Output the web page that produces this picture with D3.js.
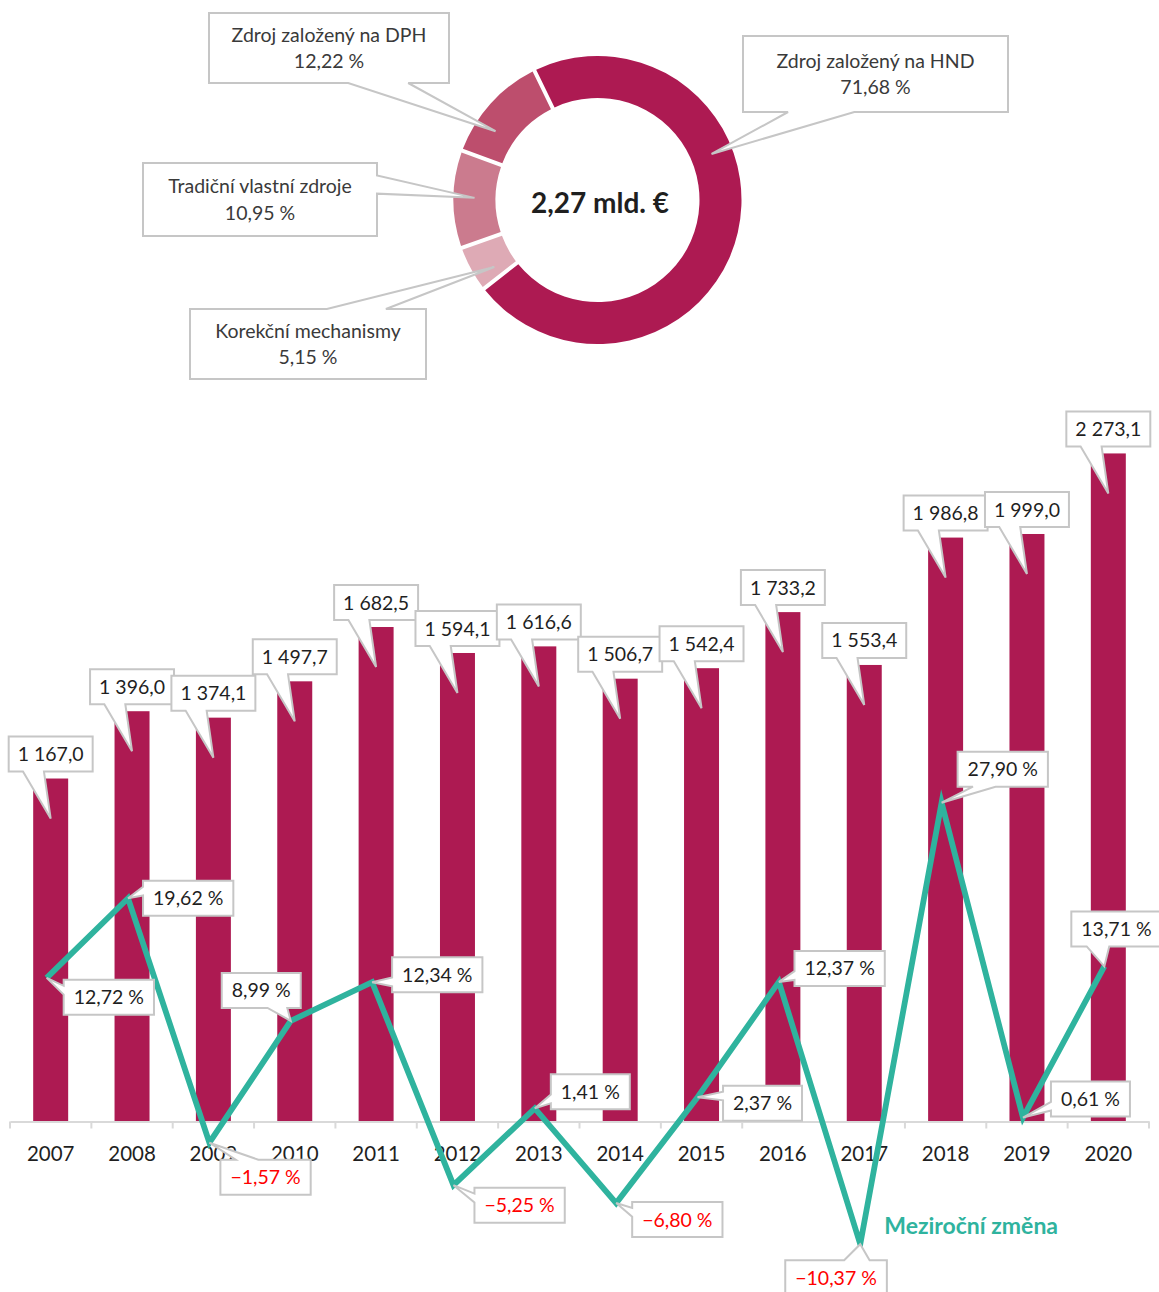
<!DOCTYPE html>
<html><head><meta charset="utf-8">
<script src="https://cdn.jsdelivr.net/npm/d3@7"></script>
<style>body{margin:0;background:#fff} svg{display:block}</style>
</head><body>
<svg id="chart" width="1159" height="1292"></svg>
<script>
// ---------------- data ----------------
const years = ["2007","2008","2009","2010","2011","2012","2013","2014","2015","2016","2017","2018","2019","2020"];
const budget = [1167.0, 1396.0, 1374.1, 1497.7, 1682.5, 1594.1, 1616.6, 1506.7, 1542.4, 1733.2, 1553.4, 1986.8, 1999.0, 2273.1];
const yoyChange = [12.72, 19.62, -1.57, 8.99, 12.34, -5.25, 1.41, -6.80, 2.37, 12.37, -10.37, 27.90, 0.61, 13.71];
const sourceNames = ["Zdroj založený na HND", "Korekční mechanismy", "Tradiční vlastní zdroje", "Zdroj založený na DPH"];
const sourceShares = [71.68, 5.15, 10.95, 12.22];
const totalLabel = "2,27 mld. €";
const lineSeriesName = "Meziroční změna";

// ---------------- layout / style ----------------
const FONT = "Lato, 'Open Sans', sans-serif";
const BAR_COLOR = "#AD1A52";
const LINE_COLOR = "#2FB39E";
const BOX_STROKE = "#C6C6C6";
const TEXT_DARK = "#1F1F1F";
const sourceColors = ["#AD1A52", "#DEAAB5", "#CB7B8E", "#BD4E6D"];
const donutGeo = {cx: 597.5, cy: 200, rOuter: 144, rInner: 102, startDeg: -26, anchorR: 123};
// callout boxes for donut: [x, y, w, h], anchor angle (deg, clockwise from top)
const donutBoxes = [[743, 36, 265, 76], [190, 309, 236, 70], [143, 163, 234, 73], [209, 13, 240, 70]];
const donutAnchorDeg = [68, 237, 271, 304];
// line label box offsets from the point (to box top-left)
const lineLabelOffsets = [[17,2],[15,-17.5],[11,17],[-69,-48],[20,-25],[21,2.5],[16,-34],[16,-1],[25.5,-11.6],[15.6,-31],[-75,16],[16,-51],[28,-36],[-33,-55]];

const locale = d3.formatLocale({decimal: ",", thousands: "\u00a0", grouping: [3], currency: ["", " €"], minus: "\u2212"});
const fmtBar = locale.format(",.1f");
const fmtPct = v => locale.format(".2f")(v) + "\u00a0%";

const svg = d3.select("#chart");

function calloutPath(x, y, w, h, tx, ty) {
  const cx = x + w / 2, cy = y + h / 2;
  const rx = (tx - cx) / (w / 2), ry = (ty - cy) / (h / 2);
  const seg = (a, len, t, c) => t > c ? [a + 0.58 * len, a + 0.83 * len] : [a + 0.17 * len, a + 0.42 * len];
  const p = d3.path();
  if (Math.abs(ry) >= Math.abs(rx)) {
    const [b0, b1] = seg(x, w, tx, cx);
    if (ry > 0) {
      p.moveTo(x, y); p.lineTo(x + w, y); p.lineTo(x + w, y + h); p.lineTo(b1, y + h);
      p.lineTo(tx, ty); p.lineTo(b0, y + h); p.lineTo(x, y + h); p.closePath();
    } else {
      p.moveTo(x, y); p.lineTo(b0, y); p.lineTo(tx, ty); p.lineTo(b1, y);
      p.lineTo(x + w, y); p.lineTo(x + w, y + h); p.lineTo(x, y + h); p.closePath();
    }
  } else {
    const [b0, b1] = seg(y, h, ty, cy);
    if (rx > 0) {
      p.moveTo(x, y); p.lineTo(x + w, y); p.lineTo(x + w, b0); p.lineTo(tx, ty);
      p.lineTo(x + w, b1); p.lineTo(x + w, y + h); p.lineTo(x, y + h); p.closePath();
    } else {
      p.moveTo(x, y); p.lineTo(x + w, y); p.lineTo(x + w, y + h); p.lineTo(x, y + h);
      p.lineTo(x, b1); p.lineTo(tx, ty); p.lineTo(x, b0); p.closePath();
    }
  }
  return p.toString();
}

// ---------------- donut ----------------
const gDonut = svg.append("g").attr("transform", `translate(${donutGeo.cx},${donutGeo.cy})`);
const start = donutGeo.startDeg * Math.PI / 180;
const pie = d3.pie().sort(null).value(d => d).startAngle(start).endAngle(start + 2 * Math.PI);
const arc = d3.arc().innerRadius(donutGeo.rInner).outerRadius(donutGeo.rOuter)
  .padAngle(4 / donutGeo.rOuter).padRadius(donutGeo.rOuter);
gDonut.selectAll("path.slice").data(pie(sourceShares)).join("path")
  .attr("class", "slice").attr("d", arc).attr("fill", (d, i) => sourceColors[i]);

gDonut.append("text").text(totalLabel)
  .attr("x", 2.5).attr("y", 3).attr("dy", "0.36em")
  .attr("text-anchor", "middle").attr("font-family", FONT).attr("font-weight", 700)
  .attr("font-size", 28).attr("fill", TEXT_DARK);

const gDL = svg.append("g");
sourceNames.forEach((name, i) => {
  const [bx, by, bw, bh] = donutBoxes[i];
  const a = donutAnchorDeg[i] * Math.PI / 180;
  const tx = donutGeo.cx + donutGeo.anchorR * Math.sin(a);
  const ty = donutGeo.cy - donutGeo.anchorR * Math.cos(a);
  gDL.append("path").attr("d", calloutPath(bx, by, bw, bh, tx, ty))
    .attr("fill", "#fff").attr("stroke", BOX_STROKE).attr("stroke-width", 2);
  const t = gDL.append("text").attr("text-anchor", "middle").attr("font-family", FONT)
    .attr("font-size", 19.5).attr("fill", "#3A3A3A");
  t.append("tspan").attr("x", bx + bw / 2).attr("y", by + bh / 2 - 13.3).attr("dy", "0.36em").text(name);
  t.append("tspan").attr("x", bx + bw / 2).attr("y", by + bh / 2 + 13.3).attr("dy", "0.36em").text(fmtPct(sourceShares[i]));
});

// ---------------- bars ----------------
const x = d3.scaleBand().domain(years).range([10, 1149]).paddingInner(0).paddingOuter(0);
const xBar = d3.scaleBand().domain(years).range([10, 1149]).paddingInner(0.57).paddingOuter(0.285);
const yBar = d3.scaleLinear().domain([0, 2500]).range([1121.5, 1121.5 - 2500 * 0.2939]);
const yLine = d3.scaleLinear().domain([-15, 30]).range([1124.6 + 15 * 11.537, 1124.6 - 30 * 11.537]);

svg.append("g").selectAll("rect").data(budget).join("rect")
  .attr("x", (d, i) => xBar(years[i])).attr("width", xBar.bandwidth())
  .attr("y", d => yBar(d)).attr("height", d => yBar(0) - yBar(d))
  .attr("fill", BAR_COLOR);

// bar callouts
const gBL = svg.append("g");
budget.forEach((v, i) => {
  const cxp = xBar(years[i]) + xBar.bandwidth() / 2;
  const top = yBar(v);
  const t = gBL.append("text").text(fmtBar(v)).attr("font-family", FONT).attr("font-size", 19.5)
    .attr("fill", TEXT_DARK).attr("text-anchor", "middle");
  const tw = t.node().getComputedTextLength();
  const bw = tw + 18, bh = 35;
  const bx = cxp - bw / 2, by = top - 7 - bh;
  gBL.insert("path", () => t.node()).attr("d", calloutPath(bx, by, bw, bh, cxp, top + 40))
    .attr("fill", "#fff").attr("stroke", BOX_STROKE).attr("stroke-width", 2);
  t.attr("x", cxp).attr("y", by + bh / 2).attr("dy", "0.36em");
});

// axis
const axis = svg.append("g").attr("transform", `translate(0,${yBar(0)})`)
  .call(d3.axisBottom(x).tickSize(0).tickSizeOuter(0).tickPadding(25));
axis.select(".domain").attr("stroke", "#D9D9D9").attr("stroke-width", 2);
axis.selectAll(".tick text").attr("font-family", FONT).attr("font-size", 20.5).attr("fill", TEXT_DARK);
const bounds = years.map(y => x(y)).concat([x.range()[1]]);
axis.selectAll("line.bound").data(bounds).join("line").attr("class", "bound")
  .attr("x1", d => d).attr("x2", d => d).attr("y1", 0).attr("y2", 7)
  .attr("stroke", "#D9D9D9").attr("stroke-width", 2);

// ---------------- line ----------------
const px = i => x(years[i]) + x.bandwidth() / 2 - 4;
const line = d3.line().x((d, i) => px(i)).y(d => yLine(d));
svg.append("path").datum(yoyChange).attr("d", line)
  .attr("fill", "none").attr("stroke", LINE_COLOR).attr("stroke-width", 5.8)
  .attr("stroke-linejoin", "miter").attr("stroke-miterlimit", 6);

const gLL = svg.append("g");
yoyChange.forEach((v, i) => {
  const tx = px(i), ty = yLine(v);
  const [dx, dy] = lineLabelOffsets[i];
  const t = gLL.append("text").text(fmtPct(v)).attr("font-family", FONT).attr("font-size", 19.5)
    .attr("fill", v < 0 ? "#FF0000" : TEXT_DARK).attr("text-anchor", "middle");
  const tw = t.node().getComputedTextLength();
  const bw = tw + 20, bh = 35;
  const bx = tx + dx, by = ty + dy;
  gLL.insert("path", () => t.node()).attr("d", calloutPath(bx, by, bw, bh, tx, ty))
    .attr("fill", "#fff").attr("stroke", BOX_STROKE).attr("stroke-width", 2);
  t.attr("x", bx + bw / 2).attr("y", by + bh / 2).attr("dy", "0.36em");
});

// series label
svg.append("text").text(lineSeriesName)
  .attr("x", px(10) + 24).attr("y", yLine(-8.8)).attr("dy", "0.36em")
  .attr("font-family", FONT).attr("font-weight", 700).attr("font-size", 23)
  .attr("fill", LINE_COLOR);
</script>
</body></html>
